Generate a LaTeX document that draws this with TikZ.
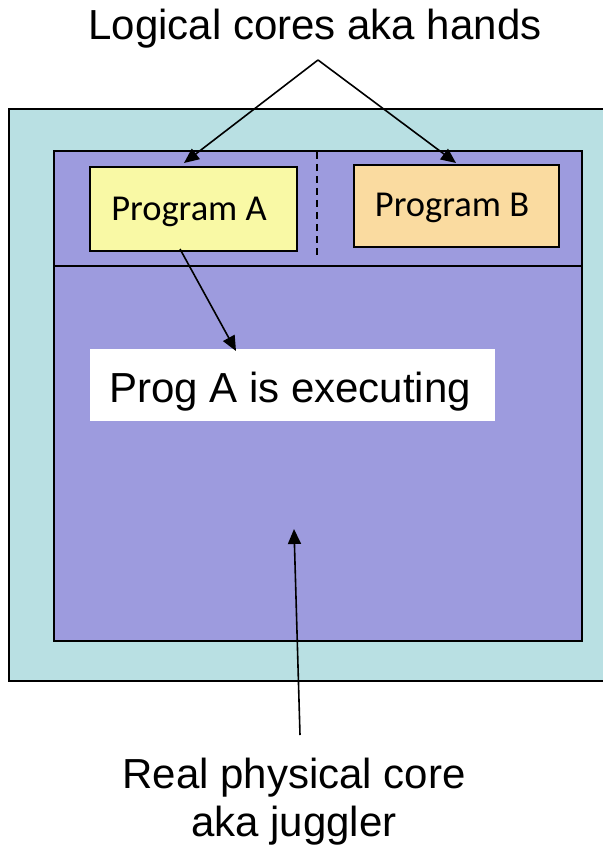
\documentclass[tikz,border=0pt]{standalone}
\usepackage{fontspec}
\setmainfont{Liberation Sans}
\newfontfamily\carl{Carlito}
\usetikzlibrary{arrows.meta,calc}
\definecolor{chipteal}{RGB}{185,224,227}
\definecolor{corepurple}{RGB}{157,155,222}
\definecolor{progyellow}{RGB}{249,249,165}
\definecolor{progorange}{RGB}{250,219,160}
\tikzset{
  box/.style={draw=black, line width=1.8pt, inner sep=0pt, anchor=north west},
  progbox/.style={box, font=\carl\fontsize{36.5}{40}\selectfont},
  label/.style={font=\fontsize{42}{48}\selectfont, inner sep=0pt},
  arr/.style={line width=1.6pt, -{Triangle[length=15pt,width=13pt]}},
}
\begin{document}
\begin{tikzpicture}[x=1pt,y=-1pt]
  \useasboundingbox (0,0) rectangle (602,850);
  % chip and physical core
  \node[box, fill=chipteal, minimum width=612pt, minimum height=572pt] (chip) at (8,108) {};
  \node[box, fill=corepurple, minimum width=528pt, minimum height=490pt] (core) at (53,150) {};
  \draw[line width=1.8pt] (53,266) -- (581,266);
  \draw[line width=1.6pt, dash pattern=on 7pt off 5pt] (317,152) -- (317,257);
  % logical cores
  \node[progbox, fill=progyellow, minimum width=207pt, minimum height=84pt] (progA) at (89,166) {};
  \node[font=\carl\fontsize{36.5}{40}\selectfont, anchor=base, inner sep=0pt] (progAtxt) at (189,220) {Program A};
  \node[progbox, fill=progorange, minimum width=205pt, minimum height=82pt] (progB) at (353,164) {};
  \node[font=\carl\fontsize{36.5}{40}\selectfont, anchor=base, inner sep=0pt] (progBtxt) at (452,217) {Program B};
  % execution status
  \node[fill=white, inner sep=0pt, anchor=north west, minimum width=405pt, minimum height=72pt] (exec) at (90,349) {};
  \node[label, anchor=base] (exectxt) at (290,402) {Prog A is executing};
  % captions
  \node[label, anchor=base] (top) at (315,40) {Logical cores aka hands};
  \node[label, anchor=base, align=center] (bottom) at (294,788) {Real physical core};
  \node[label, anchor=base] (bottom2) at (294,836) {aka juggler};
  % connector ends
  \coordinate (apex) at (318,60);
  \coordinate (tipA) at (184,163);
  \coordinate (tipB) at (456,163);
  \coordinate (fromA) at (180,249);
  \coordinate (toExec) at (236,351);
  \coordinate (coreTip) at (294,529);
  \coordinate (fromBottom) at (300,735);
  \draw[arr] (apex) -- (tipA);
  \draw[arr] (apex) -- (tipB);
  \draw[arr] (fromA) -- (toExec);
  \draw[arr] (fromBottom) -- (coreTip);
\end{tikzpicture}
\end{document}
